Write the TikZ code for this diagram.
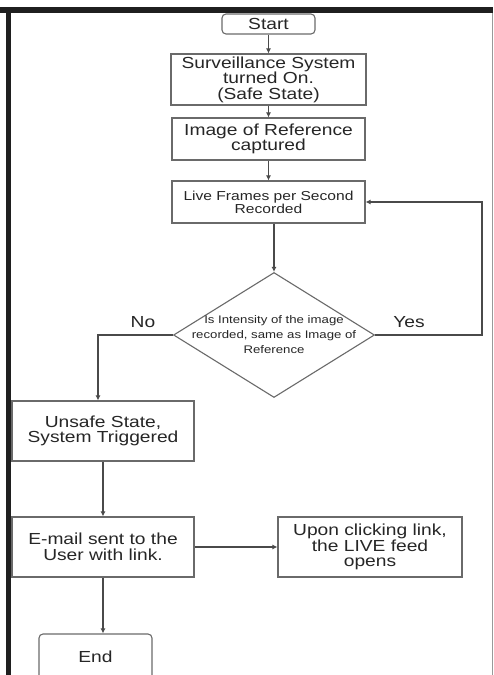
\documentclass[tikz,border=0pt]{standalone}
\usepackage{fontspec}
\setmainfont{Liberation Sans}[FakeStretch=1.2]
\usetikzlibrary{shapes.geometric,arrows.meta}
\definecolor{ln}{HTML}{6A6A6A}
\definecolor{tx}{HTML}{262626}
\tikzset{
  box/.style={draw=ln, line width=1.1pt, rectangle, inner sep=0pt, align=center, text=tx, font=\fontsize{16}{15.5}\selectfont},
  term/.style={box, rounded corners=4pt},
  smalltxt/.style={inner sep=0pt, align=center, text=tx, font=\fontsize{11}{15}\selectfont},
  tinytxt/.style={inner sep=0pt, align=center, text=tx, font=\fontsize{13}{13}\selectfont},
  lbl/.style={inner sep=0pt, text=tx, font=\fontsize{16}{16}\selectfont},
  arr/.style={draw=ln!70!black, line width=1.1pt, -{Latex[length=5pt,width=5pt]}},
}
\begin{document}
\begin{tikzpicture}[x=1pt,y=-1pt]
\useasboundingbox (0,0) rectangle (493,675);
\fill[white] (0,0) rectangle (493,675);
% frame
\fill[black!88] (0,7) rectangle (493,13);
\fill[black!88] (6,7) rectangle (11,675);
\draw[black!40, line width=1pt] (492,13) -- (492,675);

\node[term, minimum width=93pt, minimum height=20pt] (start) at (268.5,24) {Start};
\node[box, minimum width=195pt, minimum height=51pt] (sys) at (268.5,79.5) {Surveillance System\\turned On.\\(Safe State)};
\node[box, tinytxt, draw=ln, line width=1.1pt, minimum width=193pt, minimum height=42pt] (live) at (268.5,202) {Live Frames per Second\\Recorded};
\node[box, minimum width=193pt, minimum height=42pt] (ref) at (268.5,139) {Image of Reference\\captured};
\node[diamond, draw=ln, line width=1.1pt, inner sep=0pt, minimum width=201pt, minimum height=125pt] (dia) at (274,335) {};
\node[smalltxt] (diatxt) at (dia.center) {Is Intensity of the image\\recorded, same as Image of\\Reference};
\node[box, minimum width=182pt, minimum height=60pt] (unsafe) at (103,431) {Unsafe State,\\System Triggered};
\node[box, minimum width=182pt, minimum height=60pt] (mail) at (103,547) {E-mail sent to the\\User with link.};
\node[box, minimum width=184pt, minimum height=60pt] (feed) at (370,547) {Upon clicking link,\\the LIVE feed\\opens};
\node[term, minimum width=113pt, minimum height=46pt] (end) at (95.5,657) {End};

\node[lbl] (no) at (143,322) {No};
\node[lbl] (yes) at (409,322) {Yes};

\coordinate (loopc) at (482,335);
\coordinate (noc) at (98,335);

\draw[arr] (start) -- (sys);
\draw[arr] (sys) -- (ref);
\draw[arr] (ref) -- (live);
\draw[arr] (live.south -| dia.north) -- (dia.north);
\draw[arr] (dia.east) -- (loopc) |- (live.east);
\draw[arr] (dia.west) -- (noc) -- (noc |- unsafe.north);
\draw[arr] (unsafe) -- (mail);
\draw[arr] (mail) -- (feed);
\draw[arr] (mail.south) -- (mail.south |- end.north);
\end{tikzpicture}
\end{document}
